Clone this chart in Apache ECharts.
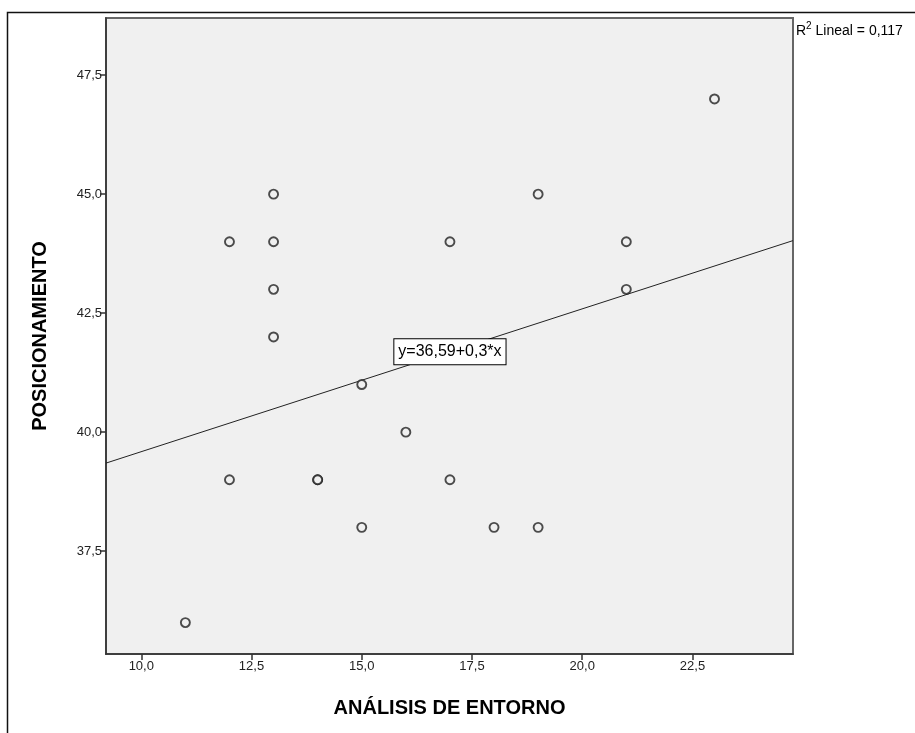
<!DOCTYPE html>
<html>
<head>
<meta charset="utf-8">
<script src="https://cdn.jsdelivr.net/npm/echarts@6/dist/echarts.min.js"></script>
<style>
  html, body { margin: 0; padding: 0; background: #fff; }
  #chart { width: 915px; height: 733px; }
</style>
</head>
<body>
<div id="chart"></div>
<script>
// datos
const entorno = [11, 12, 12, 13, 13, 13, 13, 14, 14, 15, 15, 16, 17, 17, 18, 19, 19, 21, 21, 23];
const posicionamiento = [36, 44, 39, 45, 44, 43, 42, 39, 39, 41, 38, 40, 44, 39, 38, 45, 38, 44, 43, 47];
const xTicks = [10, 12.5, 15, 17.5, 20, 22.5];
const yTicks = [37.5, 40, 42.5, 45, 47.5];
const intercept = 36.59;
const slope = 0.3;
const r2 = '0,117';

const xMin = 9.2, xMax = 24.78;
const yMin = 35.34, yMax = 48.7;

const fmt = v => v.toFixed(1).replace('.', ',');
const font = 'Liberation Sans, Arial, sans-serif';

const points = entorno.map((x, i) => [x, posicionamiento[i]]);
const fitLine = [[xMin, intercept + slope * xMin], [xMax, intercept + slope * xMax]];
const labelX = 17;

const chart = echarts.init(document.getElementById('chart'));
chart.setOption({
    animation: false,
    backgroundColor: '#fff',
    textStyle: { fontFamily: font },
    grid: {
        left: 106, right: 122, top: 18, bottom: 79,
        show: true,
        backgroundColor: '#f0f0f0',
        borderColor: '#666',
        borderWidth: 2
    },
    xAxis: {
        type: 'value',
        min: xMin, max: xMax,
        name: 'ANÁLISIS DE ENTORNO',
        nameLocation: 'middle',
        nameGap: 44,
        nameTextStyle: { fontSize: 20, fontWeight: 'bold', color: '#000' },
        splitLine: { show: false },
        axisLine: { show: true, onZero: false, lineStyle: { color: '#333', width: 1.5 } },
        axisTick: { show: true, customValues: xTicks, length: 6, lineStyle: { color: '#333', width: 1.5 } },
        axisLabel: { customValues: xTicks, formatter: fmt, color: '#222', fontSize: 13, margin: 6 }
    },
    yAxis: {
        type: 'value',
        min: yMin, max: yMax,
        name: 'POSICIONAMIENTO',
        nameLocation: 'middle',
        nameGap: 56,
        nameTextStyle: { fontSize: 20, fontWeight: 'bold', color: '#000' },
        splitLine: { show: false },
        axisLine: { show: true, onZero: false, lineStyle: { color: '#333', width: 1.5 } },
        axisTick: { show: true, customValues: yTicks, length: 6, lineStyle: { color: '#333', width: 1.5 } },
        axisLabel: { customValues: yTicks, formatter: fmt, color: '#222', fontSize: 13, margin: 4 }
    },
    series: [
        {
            type: 'line',
            data: fitLine,
            symbol: 'none',
            lineStyle: { color: '#222', width: 1 },
            z: 2,
            markPoint: {
                symbol: 'rect',
                symbolSize: 1,
                itemStyle: { color: 'rgba(0,0,0,0)' },
                label: {
                    show: true,
                    position: 'inside',
                    formatter: 'y=36,59+0,3*x',
                    color: '#000',
                    fontSize: 16,
                    backgroundColor: '#fff',
                    borderColor: '#000',
                    borderWidth: 1,
                    padding: [5, 4, 4, 4]
                },
                data: [{ coord: [labelX, intercept + slope * labelX] }]
            }
        },
        {
            type: 'scatter',
            data: points,
            symbol: 'circle',
            symbolSize: 9,
            itemStyle: { color: '#f0f0f0', borderColor: '#222', borderWidth: 1.9 },
            z: 3
        }
    ],
    graphic: [
        {
            type: 'rect',
            left: 5, top: 10,
            shape: { width: 1000, height: 1000 },
            style: { fill: 'none', stroke: '#111', lineWidth: 1.5 },
            silent: true
        },
        {
            type: 'text',
            left: 796, top: 21,
            style: {
                text: '{r|R}{s|2}{r| Lineal = ' + r2 + '}',
                rich: {
                    r: { fontSize: 14, fill: '#000', fontFamily: font, verticalAlign: 'bottom', lineHeight: 17 },
                    s: { fontSize: 10, fill: '#000', fontFamily: font, verticalAlign: 'top', lineHeight: 17, padding: [0, 0, 7, 0] }
                }
            }
        }
    ]
});
</script>
</body>
</html>
